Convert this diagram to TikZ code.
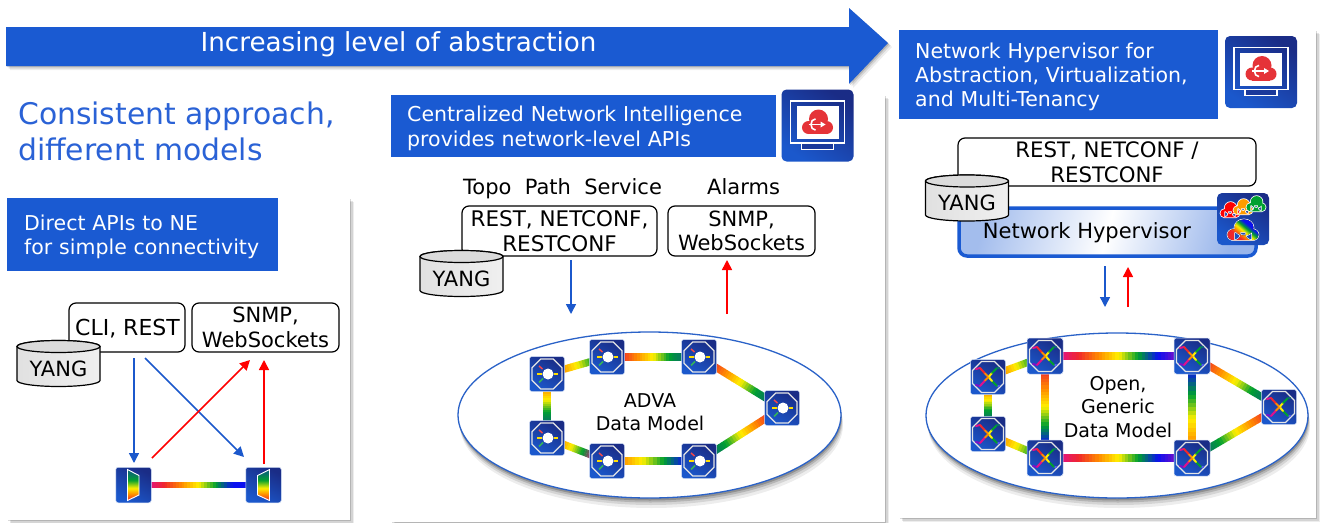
\documentclass[tikz,border=0pt]{standalone}
\usepackage{fontspec}
\setmainfont{DejaVu Sans}
\usetikzlibrary{calc,arrows.meta,shadings}
\definecolor{hdr}{HTML}{1A5AD2}
\definecolor{ttl}{HTML}{2A62D6}
\definecolor{navy}{HTML}{1A2C86}
\definecolor{royal}{HTML}{1B58CC}
\definecolor{elline}{HTML}{2A62C8}
\definecolor{rbgreen}{HTML}{00A030}
\definecolor{rbteal}{HTML}{0A6A70}
\definecolor{rbblue}{HTML}{0A10F0}
\definecolor{rbpurp}{HTML}{7A10C8}
\definecolor{rbmag}{HTML}{E0108C}
\definecolor{rbred}{HTML}{F0282C}
\definecolor{rborg}{HTML}{FF8A00}
\definecolor{rbyel}{HTML}{FFF000}
\definecolor{cloudred}{HTML}{E53338}
\pgfdeclarelayer{back}\pgfdeclarelayer{mid}
\pgfsetlayers{back,mid,main}
\pgfdeclareverticalshading{rbv}{100bp}{color(0bp)=(rbred);color(25bp)=(rbred);color(35bp)=(rborg);color(45bp)=(rbyel);color(58bp)=(rbgreen);color(70bp)=(rbteal);color(75bp)=(rbteal);color(100bp)=(rbteal)}
\pgfdeclarehorizontalshading{rbh}{100bp}{color(0bp)=(rbred);color(36bp)=(rbred);color(43bp)=(rborg);color(49bp)=(rbyel);color(56bp)=(rbgreen);color(63bp)=(rbblue);color(100bp)=(rbblue)}
\tikzset{
  x=1pt,y=-1pt,
  softshad/.style={
    preaction={fill=black,fill opacity=.07,transform canvas={shift={(4pt,-4pt)}}},
    preaction={fill=black,fill opacity=.10,transform canvas={shift={(2.5pt,-2.5pt)}}},
    preaction={fill=black,fill opacity=.15,transform canvas={shift={(1.2pt,-1.2pt)}}}},
  ellshad/.style={
    preaction={fill=black,fill opacity=.07,transform canvas={shift={(2pt,-10pt)}}},
    preaction={fill=black,fill opacity=.10,transform canvas={shift={(1.5pt,-7pt)}}},
    preaction={fill=black,fill opacity=.15,transform canvas={shift={(1pt,-4.5pt)}}},
    preaction={fill=black,fill opacity=.20,transform canvas={shift={(.5pt,-2.5pt)}}}},
  panel/.style={fill=white,softshad},
  hdrbox/.style={fill=hdr,text=white,anchor=north west,inner sep=0pt,align=left,font=\fontsize{20.5}{24.4}\selectfont},
  apibox/.style={draw=black,line width=1.2pt,fill=white,rounded corners=7pt,align=center,inner sep=0pt,font=\fontsize{21}{24.5}\selectfont},
  plain/.style={inner sep=0pt,align=center,text=black,font=\fontsize{21}{24}\selectfont},
  modeltext/.style={inner sep=0pt,align=center,text=black,font=\fontsize{19}{23.3}\selectfont},
  dev/.style={rounded corners=2.5pt,minimum size=35pt,inner sep=0pt,left color=navy,right color=royal,shading angle=-30,draw=white!80!royal,line width=.5pt},
  tile/.style={rounded corners=5pt,inner sep=0pt,left color=navy,right color=royal,shading angle=-35},
  netell/.style={draw=elline,line width=1.3pt,fill=white,ellshad},
  blueflow/.style={draw=royal,line width=1.5pt,-{Triangle[length=10pt,width=10pt]}},
  redflow/.style={draw=red,line width=1.5pt,-{Triangle[length=10pt,width=10pt]}},
}
% rainbow link between two nodes
\newcommand\rlink[4]{%
  \begin{pgfonlayer}{mid}
  \coordinate (rA) at ($(#1)!14pt!(#2)$);
  \coordinate (rB) at ($(#2)!14pt!(#1)$);
  \foreach \cc [count=\kk] in {#3}{\xdef\rbn{\kk}}
  \foreach \cc [count=\kk from 0, remember=\cc as \pc (initially rbred)] in {#3}{%
    \ifnum\kk>0
      \foreach \jj in {0,...,5}{%
        \pgfmathsetmacro\tta{(\kk-1+\jj/6)/(\rbn-1)}
        \pgfmathsetmacro\ttb{(\kk-1+(\jj+1.15)/6)/(\rbn-1)}
        \pgfmathsetmacro\pct{100-(\jj+.5)/6*100}
        \draw[line width=#4,color={\pc!\pct!\cc}] ($(rA)!\tta!(rB)$) -- ($(rA)!\ttb!(rB)$);
      }%
    \fi}%
  \end{pgfonlayer}}
% cloud path, centred, unit: half width about 16
\newcommand\cloudpath{(-9,2) circle[radius=6.5] (1,-6.5) circle[radius=9.5] (9,2) circle[radius=6.5] (-9,-1) rectangle (9,8.5)}
\newcommand\advaicon[2]{%
  \node[dev] (#1) at (#2) {};
  \begin{scope}[shift={(#1)}]
    \draw[white!80!gray,line width=1.3pt] (-6.2,-15)--(6.2,-15)--(15,-6.2)--(15,6.2)--(6.2,15)--(-6.2,15)--(-15,6.2)--(-15,-6.2)--cycle;
    \fill[white] (1,0) circle[radius=5.5];
    \draw[rbred!85!white,line width=1.5pt] (-8,-8)--(-4.5,-5);
    \draw[rbyel!85!orange,line width=1.5pt] (-10,0)--(-5,0);
    \draw[rbyel!85!orange,line width=1.5pt] (7,0)--(11,0);
    \draw[rbgreen!80!white,line width=1.5pt] (-8,8.5)--(-4,4.5);
  \end{scope}}
\newcommand\xicon[3]{%
  \node[dev,minimum size=#3] (#1) at (#2) {};
  \begin{scope}[shift={(#1)}]
    \draw[white!80!gray,line width=1.3pt] (-6.5,-15.5)--(6.5,-15.5)--(15.5,-6.5)--(15.5,6.5)--(6.5,15.5)--(-6.5,15.5)--(-15.5,6.5)--(-15.5,-6.5)--cycle;
    \begin{scope}[line width=2pt,line cap=round]
      \draw[rbblue!70!white] (9,9)--(11,9);
      \draw[rbgreen] (4,4)--(9,9);
      \draw[rbmag] (-12,-8)--(-8,-9);
      \draw[rbred] (-8,-9)--(-3,-3.5);
      \draw[rborg] (-3,-3.5)--(1,.5);
      \draw[rbyel] (1,.5)--(4,4);
      \draw[rbpurp] (-12,8)--(-8,9);
      \draw[rbmag] (-8,9)--(-3,3.5);
      \draw[rborg] (-3,3.5)--(1,-.5);
      \draw[rbyel] (1,-.5)--(4,-4);
      \draw[rbgreen] (4,-4)--(9,-9);
      \draw[rbteal] (9,-9)--(11,-9);
    \end{scope}
  \end{scope}}
\newcommand\monitoricon[2]{%
  \node[tile,minimum size=72pt] (#1) at (#2) {};
  \begin{scope}[shift={(#1)}]
    \fill[navy!70!royal] (-16,17) rectangle (16,23.4);
    \draw[white,line width=1.2pt] (-16,17.5) rectangle (16,23.6);
    \draw[white,line width=1.5pt] (-27,-24.5) rectangle (27,17.5);
    \fill[white] (-21,-19.5) rectangle (21,13.5);
    \fill[cloudred] (-9,2) circle[radius=6.5] (1,-6.5) circle[radius=9.5] (9,2) circle[radius=6.5];
    \fill[cloudred] (-9,-1) rectangle (9,8.5);
    \draw[white,line width=1.6pt] (-2,-6.6) .. controls (-8,-6.6) and (-8,4.6) .. (-2,4.6);
    \draw[white,line width=1.6pt] (-9,-1) -- (7,-1);
    \fill[white] (3,-4) -- (8,-1) -- (3,2) -- cycle;
  \end{scope}}
\newcommand\yangdb[2]{% name, centre
  \node[plain,minimum width=83pt,minimum height=46pt] (#1) at (#2) {};
  \begin{scope}[shift={(#1)}]
    \path[draw=black,line width=1.2pt,left color=black!12,right color=black!6] (-41.5,-17) -- (-41.5,17) arc[start angle=180,end angle=0,x radius=41.5,y radius=6] -- (41.5,-17) arc[start angle=0,end angle=-180,x radius=41.5,y radius=6] -- cycle;
    \path[draw=black,line width=1.2pt,fill=black!14] (0,-17) ellipse[x radius=41.5,y radius=6];
    \node[plain] at (0,5) {YANG};
  \end{scope}}
\newcommand\hstrut{\rule{0pt}{20pt}}
\begin{document}
\begin{tikzpicture}
\useasboundingbox (0,0) rectangle (1341,522);
% panels
\begin{pgfonlayer}{back}
\fill[white] (0,0) rectangle (1341,522);
\path[panel] (7,198) rectangle (350,520);
\path[panel] (391,95) rectangle (885,522);
\path[panel] (899,30) rectangle (1316,518);
\path[netell] (649.5,415) ellipse[x radius=191.5,y radius=83];
\path[netell] (1117,415.5) ellipse[x radius=191,y radius=82.5];
\end{pgfonlayer}
% banner
\path[fill=hdr,softshad] (6,27) -- (849,27) -- (849,8) -- (888,43) -- (849,84) -- (849,66) -- (6,66) -- cycle;
\node[text=white,inner sep=0pt,font=\fontsize{26.2}{30}\selectfont] (bannertext) at (398.5,44) {Increasing level of abstraction};
\node[anchor=west,inner sep=0pt,align=left,text=ttl,font=\fontsize{29.8}{36}\selectfont] (subtitle) at (18,131) {Consistent approach,\\different models};
% headers
\node[hdrbox,minimum height=73pt,text width=271pt] (h1) at (7,198) {\hstrut\hspace*{17pt}Direct APIs to NE\\\hspace*{17pt}for simple connectivity};
\node[hdrbox,minimum height=62pt,text width=385pt] (h2) at (391,95) {\hstrut\hspace*{16pt}Centralized Network Intelligence\\\hspace*{16pt}provides network-level APIs};
\node[hdrbox,minimum height=89pt,text width=319pt] (h3) at (899,30) {\hstrut\hspace*{16pt}Network Hypervisor for\\\hspace*{16pt}Abstraction, Virtualization,\\\hspace*{16pt}and Multi-Tenancy};
\monitoricon{mon2}{817.5,125.5}
\monitoricon{mon3}{1261,72}
% panel 1
\node[apibox,minimum width=116pt,minimum height=49pt] (cli) at (127,327.5) {};
\node[plain,anchor=center,font=\fontsize{22}{24}\selectfont] (clit) at (127.5,329) {CLI, REST};
\node[apibox,minimum width=147pt,minimum height=49pt] (snmp1) at (265.5,327.5) {SNMP,\\WebSockets};
\yangdb{y1}{58.5,363.5}
\node[dev,minimum size=35.5pt] (mux1) at (133.5,485) {};
\node[dev,minimum size=35.5pt] (mux2) at (263.5,485) {};
\path[shading=rbv,draw=white,line width=.9pt] (127.5,469.5) -- (139,475.5) -- (139,495) -- (127.5,500.5) -- cycle;
\path[shading=rbv,draw=white,line width=.9pt] (269.5,469.5) -- (257.5,475.5) -- (257.5,495) -- (269.5,500.5) -- cycle;
\rlink{mux1}{mux2}{rbmag,rbred,rborg,rbyel,rbgreen,rbblue,rbblue}{6.5pt}
\coordinate (a1s) at (134,358); \coordinate (a1e) at (134,463);
\coordinate (a2s) at (145,358); \coordinate (a2e) at (244,457);
\coordinate (a3s) at (152,458); \coordinate (a3e) at (250,360);
\coordinate (a4s) at (264,464); \coordinate (a4e) at (264,360);
\draw[blueflow] (a1s) -- (a1e);
\draw[blueflow] (a2s) -- (a2e);
\draw[redflow] (a3s) -- (a3e);
\draw[redflow] (a4s) -- (a4e);
% panel 2
\node[plain,anchor=base west] (topo) at (463,194) {Topo\ \ Path\ \ Service};
\node[plain,anchor=base west] (alarms) at (707,194) {Alarms};
\node[apibox,minimum width=195pt,minimum height=50pt,font=\fontsize{21.5}{24.5}\selectfont] (rest2) at (559.5,231) {REST, NETCONF,\\RESTCONF};
\node[apibox,minimum width=147pt,minimum height=50pt] (snmp2) at (741.5,231) {SNMP,\\WebSockets};
\yangdb{y2}{461.5,273.5}
\coordinate (b1s) at (571,260); \coordinate (b1e) at (571,314);
\coordinate (b2s) at (727,314); \coordinate (b2e) at (727,260);
\draw[blueflow] (b1s) -- (b1e);
\draw[redflow] (b2s) -- (b2e);
\advaicon{n1}{547,374}
\advaicon{n2}{547,438}
\advaicon{n3}{607,357}
\advaicon{n4}{607,461}
\advaicon{n5}{699,357}
\advaicon{n6}{699,461}
\advaicon{n7}{782,408}
\rlink{n1}{n3}{rborg,rbyel,rbgreen}{7.3pt}
\rlink{n1}{n2}{rborg,rbyel,rbgreen,rbteal}{7.3pt}
\rlink{n2}{n4}{rborg,rbyel,rbgreen,rbmag}{7.3pt}
\rlink{n3}{n5}{rbred,rborg,rbyel,rbgreen,rbteal}{7.3pt}
\rlink{n4}{n6}{rborg,rbyel,rbgreen,rbblue}{7.3pt}
\rlink{n5}{n7}{rbred,rborg,rbyel,rbgreen,rbteal}{7.3pt}
\rlink{n7}{n6}{rbred,rborg,rbyel,rbgreen,rbteal}{7.3pt}
\node[modeltext] (adva) at (650,412) {ADVA\\Data Model};
% panel 3
\node[apibox,minimum width=298pt,minimum height=48pt,font=\fontsize{21.3}{24.5}\selectfont] (rest3) at (1107,162) {REST, NETCONF /\\RESTCONF};
\node[minimum width=297pt,minimum height=48pt,inner sep=0pt,draw=hdr,line width=3.5pt,rounded corners=8pt,left color=hdr!40,right color=hdr!45,middle color=white,shading angle=75] (hv) at (1107.5,232) {};
\node[plain] (hvt) at (1087,233) {Network Hypervisor};
\yangdb{y3}{967,198}
\node[tile,minimum size=52pt] (cl) at (1243,219) {};
\begin{scope}[shift={(1230,212)},scale=.62]
  \path[draw=white,line width=1.5pt] \cloudpath;\fill[red] \cloudpath;
\end{scope}
\begin{scope}[shift={(1243,209)},scale=.62]
  \path[draw=white,line width=1.5pt] \cloudpath;\fill[rborg!85!yellow] \cloudpath;
\end{scope}
\begin{scope}[shift={(1256,206)},scale=.62]
  \path[draw=white,line width=1.5pt] \cloudpath;\fill[rbgreen] \cloudpath;
\end{scope}
\begin{scope}[shift={(1243,233)},xscale=1,yscale=.85]
  \path[draw=white,line width=1.5pt] \cloudpath;
  \begin{scope}
    \clip \cloudpath;
    \fill[shading=rbh,shading angle=50] (-17,-17) rectangle (17,10);
  \end{scope}
\end{scope}
\coordinate (c1s) at (1105,266); \coordinate (c1e) at (1105,307);
\coordinate (c2s) at (1128,307); \coordinate (c2e) at (1128,267);
\draw[blueflow] (c1s) -- (c1e);
\draw[redflow] (c2s) -- (c2e);
\xicon{x1}{988,377}{35pt}
\xicon{x2}{988,434}{35pt}
\xicon{x3}{1045,356}{36pt}
\xicon{x4}{1045,458}{36pt}
\xicon{x5}{1192,356}{36pt}
\xicon{x6}{1192,458}{36pt}
\xicon{x7}{1279,407}{35pt}
\rlink{x1}{x3}{rborg,rbyel,rbgreen}{7.3pt}
\rlink{x1}{x2}{rborg,rbyel,rbgreen,rbteal}{7.3pt}
\rlink{x2}{x4}{rborg,rbyel,rbgreen}{7.3pt}
\rlink{x3}{x5}{rbmag,rbred,rborg,rbyel,rbgreen,rbblue,rbpurp}{7.5pt}
\rlink{x4}{x6}{rbmag,rbred,rborg,rbyel,rbgreen,rbblue,rbpurp}{7.5pt}
\rlink{x4}{x3}{rbblue,rbgreen,rbyel,rborg,rbred}{7.5pt}
\rlink{x6}{x5}{rborg,rbyel,rbgreen,rbblue}{7.5pt}
\rlink{x5}{x7}{rbred,rborg,rbyel,rbgreen,rbteal}{7.3pt}
\rlink{x7}{x6}{rbred,rborg,rbyel,rbgreen,rbteal}{7.3pt}
\node[modeltext] (opent) at (1118,407) {Open,\\Generic\\Data Model};
\end{tikzpicture}
\end{document}
